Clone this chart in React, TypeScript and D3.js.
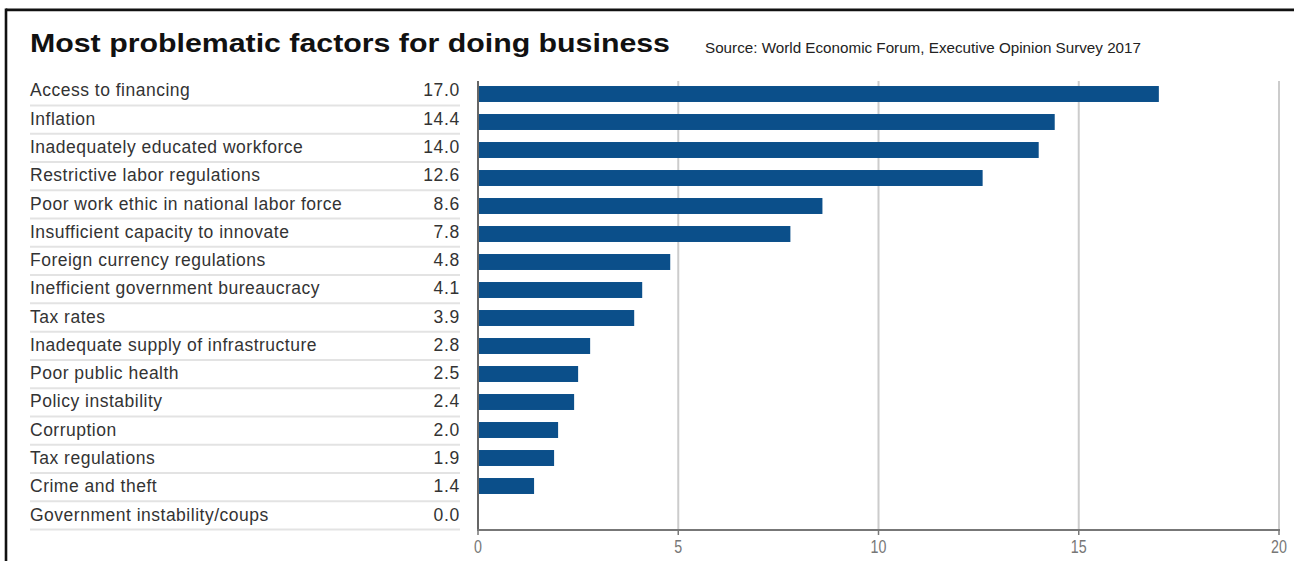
import React from "react";
import * as d3 from "d3";

const categories = [
  "Access to financing",
  "Inflation",
  "Inadequately educated workforce",
  "Restrictive labor regulations",
  "Poor work ethic in national labor force",
  "Insufficient capacity to innovate",
  "Foreign currency regulations",
  "Inefficient government bureaucracy",
  "Tax rates",
  "Inadequate supply of infrastructure",
  "Poor public health",
  "Policy instability",
  "Corruption",
  "Tax regulations",
  "Crime and theft",
  "Government instability/coups",
];
const values = [17.0, 14.4, 14.0, 12.6, 8.6, 7.8, 4.8, 4.1, 3.9, 2.8, 2.5, 2.4, 2.0, 1.9, 1.4, 0.0];
const xTicks = [0, 5, 10, 15, 20];
const title = "Most problematic factors for doing business";
const source = "Source: World Economic Forum, Executive Opinion Survey 2017";

const W = 1294;
const H = 561;

export default function App() {
  const x = d3.scaleLinear().domain([0, 20]).range([478, 1279]);
  const yBar = d3
    .scaleBand<string>()
    .domain(categories)
    .range([80, 528])
    .paddingInner(0.43)
    .paddingOuter(0.215);
  const yRow = d3
    .scaleBand<string>()
    .domain(categories)
    .range([77.2, 77.2 + 28.27 * 16]);
  const axisY = 530;
  const gridTop = 81;
  const font = "Liberation Sans, Arial, Helvetica, sans-serif";
  const narrow = "Liberation Sans Narrow, Arial Narrow, Liberation Sans, sans-serif";

  return (
    <svg
      width={W}
      height={H}
      style={{ position: "fixed", left: 0, top: 0, background: "#fff" }}
    >
      <rect x={0} y={0} width={W} height={H} fill="#fff" />
      {/* frame */}
      <line x1={6} x2={W} y1={9.8} y2={9.8} stroke="#111" strokeWidth={2.8} />
      <line x1={6} x2={6} y1={8.5} y2={H} stroke="#111" strokeWidth={2.6} />

      <text
        x={30}
        y={52}
        fontFamily={font}
        fontWeight="bold"
        fontSize={25}
        fill="#111"
        textLength={640}
        lengthAdjust="spacingAndGlyphs"
      >
        {title}
      </text>
      <text
        x={705}
        y={53}
        fontFamily={font}
        fontSize={14.5}
        fill="#222"
        textLength={436}
        lengthAdjust="spacingAndGlyphs"
      >
        {source}
      </text>

      {/* table */}
      {categories.map((c, i) => {
        const top = yRow(c)!;
        const bottom = top + yRow.bandwidth();
        return (
          <g key={c}>
            <text
              x={30}
              y={bottom - 9}
              fontFamily={font}
              fontSize={17.5}
              fill="#333"
              letterSpacing={0.5}
            >
              {c}
            </text>
            <text
              x={460}
              y={bottom - 9}
              fontFamily={font}
              fontSize={17.5}
              fill="#333"
              textAnchor="end"
              letterSpacing={0.7}
            >
              {values[i].toFixed(1)}
            </text>
            <line x1={30} x2={460} y1={bottom} y2={bottom} stroke="#e3e3e3" strokeWidth={2} />
          </g>
        );
      })}

      {/* grid */}
      {xTicks.slice(1).map((t) => (
        <line
          key={t}
          x1={x(t)}
          x2={x(t)}
          y1={gridTop}
          y2={axisY}
          stroke="#cccccc"
          strokeWidth={2}
        />
      ))}

      {/* bars */}
      {categories.map((c, i) => (
        <rect
          key={c}
          x={x(0)}
          y={yBar(c)!}
          width={x(values[i]) - x(0)}
          height={yBar.bandwidth()}
          fill="#0b4f8a"
        />
      ))}

      {/* axes */}
      <line x1={x(0)} x2={x(0)} y1={gridTop} y2={axisY} stroke="#666" strokeWidth={2} />
      <line x1={x(0) - 1} x2={x(20) + 1} y1={axisY} y2={axisY} stroke="#777" strokeWidth={2} />
      {xTicks.map((t) => (
        <g key={t}>
          <line x1={x(t)} x2={x(t)} y1={axisY} y2={axisY + 5} stroke="#777" strokeWidth={1.5} />
          <g transform={`translate(${x(t)},553) scale(0.75,1)`}>
            <text
              x={0}
              y={0}
              fontFamily={narrow}
              fontSize={19}
              fill="#777"
              textAnchor="middle"
            >
              {t}
            </text>
          </g>
        </g>
      ))}
    </svg>
  );
}
